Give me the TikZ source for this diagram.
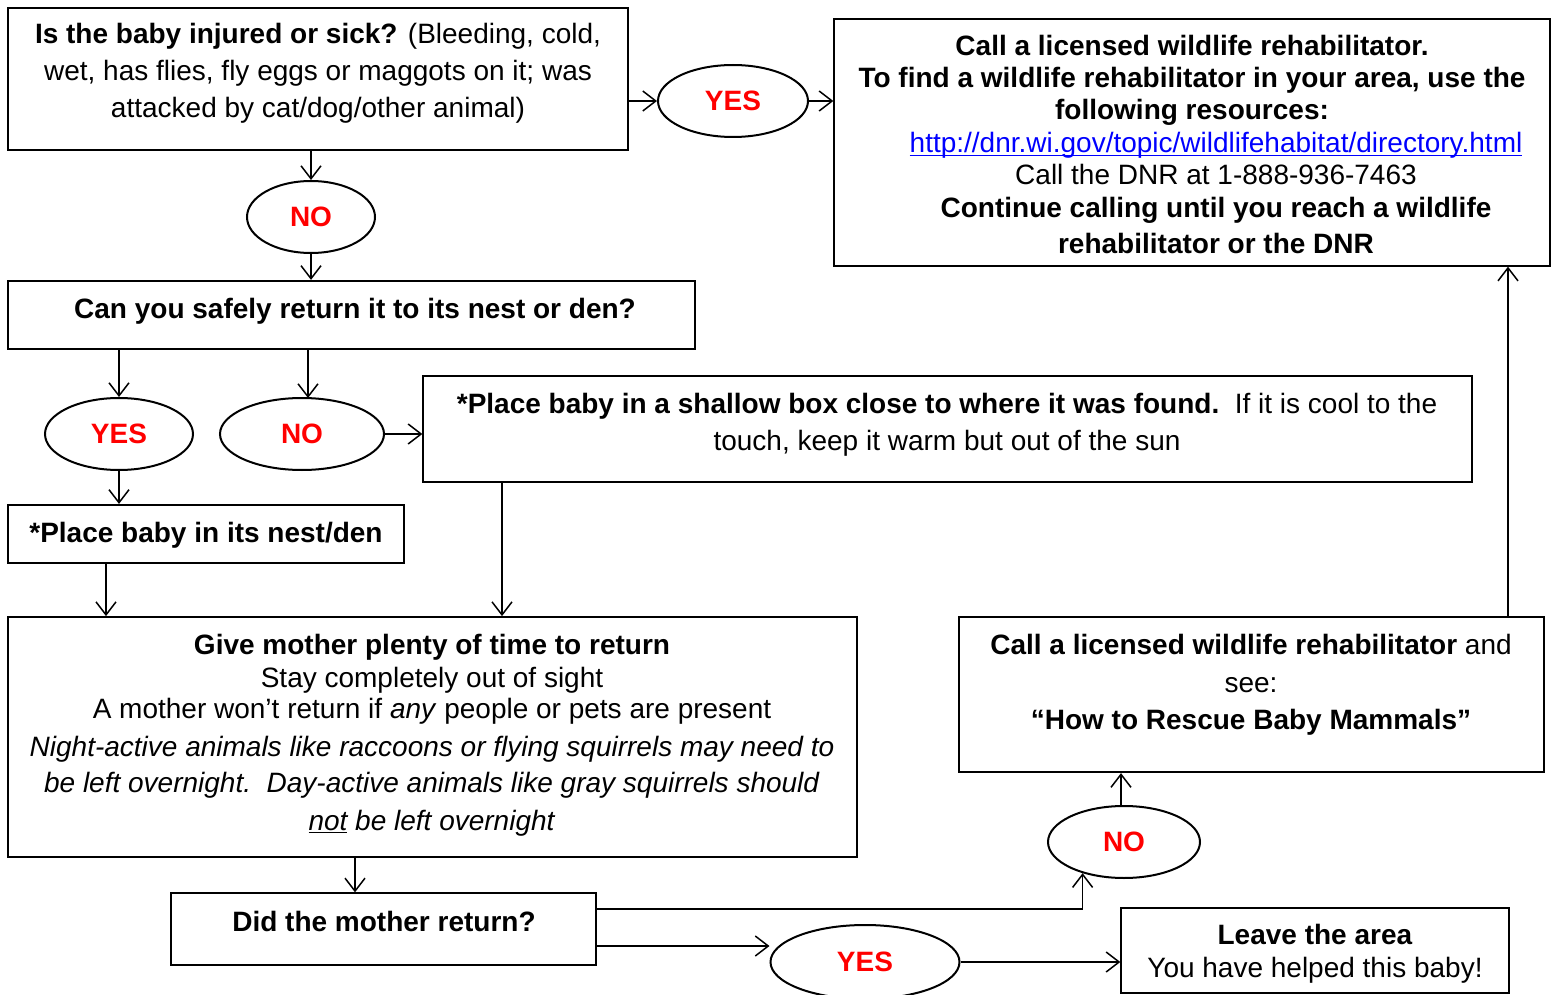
\documentclass[tikz,border=0pt]{standalone}
\usepackage{fontspec}
\setmainfont{Liberation Sans}
\usetikzlibrary{shapes.geometric,arrows.meta,calc}
\definecolor{yesred}{RGB}{255,0,0}
\definecolor{urlblue}{RGB}{0,0,255}
\newcommand\myul[1]{\setbox0\hbox{#1}\rlap{\rule[-3pt]{\wd0}{1.4pt}}\box0\relax}
\begin{document}
\begin{tikzpicture}[x=1pt,y=-1pt,
 box/.style={draw, line width=1.3pt, rectangle, inner sep=0pt},
 tbox/.style={box, line width=2.2pt},
 oval/.style={draw, ellipse, line width=2pt, inner sep=0pt, minimum height=72pt, text=yesred, font=\fontsize{28}{33}\selectfont\bfseries},
 txt/.style={inner sep=0pt, anchor=base, font=\fontsize{28}{33}\selectfont},
 arr/.style={draw, line width=1.5pt, -{Straight Barb[length=13pt,width=20pt]}}
]
\fill[white] (0,0) rectangle (1551,995);
\useasboundingbox (0,0) rectangle (1551,995);

% boxes
\node[box, minimum width=620pt, minimum height=142pt] (b1) at (318,79) {};
\node[box, minimum width=716pt, minimum height=247pt] (b2) at (1192,142.5) {};
\node[tbox, minimum width=687pt, minimum height=68pt] (b5) at (351.5,315) {};
\node[box, minimum width=1049pt, minimum height=106pt] (b8) at (947.5,429) {};
\node[tbox, minimum width=396pt, minimum height=58pt] (b9) at (206,534) {};
\node[box, line width=1.8pt, minimum width=849pt, minimum height=240pt] (b10) at (432.5,737) {};
\node[tbox, minimum width=585pt, minimum height=155pt] (b11) at (1251.5,694.5) {};
\node[box, minimum width=425pt, minimum height=72pt] (b13) at (383.5,929) {};
\node[box, minimum width=388pt, minimum height=85pt] (b15) at (1315,950.5) {};

% ovals
\node[oval, minimum width=150pt] (yes1) at (733,101) {YES};
\node[oval, minimum width=128pt] (no1) at (311,217) {NO};
\node[oval, minimum width=148pt] (yes2) at (119,434) {YES};
\node[oval, minimum width=164pt] (no2) at (302,434) {NO};
\node[oval, minimum width=152pt] (no3) at (1124,842) {NO};
\node[oval, minimum width=189pt, minimum height=74pt] (yes4) at (865,962) {YES};

% texts box 1
\node[txt] (t1a) at (318,44) {\textbf{Is the baby injured or sick?} (Bleeding, cold,};
\node[txt] (t1b) at (318,81) {wet, has flies, fly eggs or maggots on it; was};
\node[txt] (t1c) at (318,118) {attacked by cat/dog/other animal)};

% texts box 2
\node[txt] (t2a) at (1192,56) {\textbf{Call a licensed wildlife rehabilitator.}};
\node[txt] (t2b) at (1192,88) {\textbf{To find a wildlife rehabilitator in your area, use the}};
\node[txt] (t2c) at (1192,120) {\textbf{following resources:}};
\node[txt, text=urlblue] (t2d) at (1216,153) {\myul{http://dnr.wi.gov/topic/wildlifehabitat/directory.html}};
\node[txt] (t2e) at (1216,185) {Call the DNR at 1-888-936-7463};
\node[txt] (t2f) at (1216,218) {\textbf{Continue calling until you reach a wildlife}};
\node[txt] (t2g) at (1216,254) {\textbf{rehabilitator or the DNR}};

% box 5
\node[txt] (t5) at (355,318) {\textbf{Can you safely return it to its nest or den?}};

% box 8
\node[txt] (t8a) at (947,413) {\textbf{*Place baby in a shallow box close to where it was found.}\ \ If it is cool to the};
\node[txt] (t8b) at (947,450) {touch, keep it warm but out of the sun};

% box 9
\node[txt] (t9) at (206,542) {\textbf{*Place baby in its nest/den}};

% box 10
\node[txt] (t10a) at (432,654) {\textbf{Give mother plenty of time to return}};
\node[txt] (t10b) at (432,687) {Stay completely out of sight};
\node[txt] (t10c) at (432,718) {A mother won’t return if \textit{any} people or pets are present};
\node[txt] (t10d) at (432,756) {\textit{Night-active animals like raccoons or flying squirrels may need to}};
\node[txt] (t10e) at (432,792) {\textit{be left overnight.\ \ Day-active animals like gray squirrels should}};
\node[txt] (t10f) at (432,830) {\textit{\myul{not} be left overnight}};

% box 11
\node[txt] (t11a) at (1251,654) {\textbf{Call a licensed wildlife rehabilitator} and};
\node[txt] (t11b) at (1251,692) {see:};
\node[txt] (t11c) at (1251,729) {\textbf{“How to Rescue Baby Mammals”}};

% box 13
\node[txt] (t13) at (384,931) {\textbf{Did the mother return?}};

% box 15
\node[txt] (t15a) at (1315,944) {\textbf{Leave the area}};
\node[txt] (t15b) at (1315,977) {You have helped this baby!};

% connectors
\draw[arr] (b1.east |- yes1.west) -- (yes1.west);
\draw[arr] (yes1.east) -- (yes1.east -| b2.west);
\draw[arr] (no1.north |- b1.south) -- (no1.north);
\draw[arr] (no1.south) -- (no1.south |- b5.north);
\draw[arr] (yes2.north |- b5.south) -- (yes2.north);
\draw[arr] (b5.south -| 308,0) -- (308,398);
\draw[arr] (no2.east) -- (no2.east -| b8.west);
\draw[arr] (yes2.south) -- (yes2.south |- b9.north);
\draw[arr] (b9.south -| 106,0) -- (b10.north -| 106,0);
\draw[arr] (b8.south -| 502,0) -- (b10.north -| 502,0);
\draw[arr] (b10.south -| 355,0) -- (b13.north -| 355,0);
\draw[arr] (b13.east |- 0,909) -| (no3.217);
\draw[arr] (b13.east |- 0,946) -- (yes4.west |- 0,946);
\draw[arr] (yes4.east) -- (yes4.east -| b15.west);
\draw[arr] (no3.north -| 1121,0) -- (b11.south -| 1121,0);
\draw[arr] (b11.north -| 1508,0) -- (b2.south -| 1508,0);
\end{tikzpicture}
\end{document}
